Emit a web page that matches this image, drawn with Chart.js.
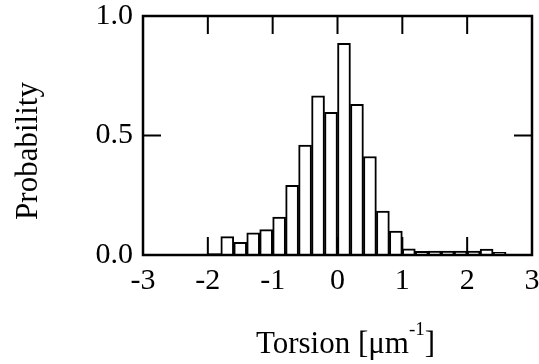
<!DOCTYPE html>
<html>
<head>
<meta charset="utf-8">
<script src="https://cdn.jsdelivr.net/npm/chart.js@4"></script>
<style>
  body { margin: 0; background: #fff; }
  #wrap { width: 539px; height: 364px; }
</style>
</head>
<body>
<div id="wrap"><canvas id="torsionChart"></canvas></div>
<script>
// Histogram bins (left edges, width 0.2) and probabilities
const binStarts = [-2.2, -2.0, -1.8, -1.6, -1.4, -1.2, -1.0, -0.8, -0.6, -0.4, -0.2, 0.0,
  0.2, 0.4, 0.6, 0.8, 1.0, 1.2, 1.4, 1.6, 1.8, 2.0, 2.2, 2.4];
const probability = [0.003, 0.006, 0.077, 0.053, 0.093, 0.106, 0.159, 0.292, 0.460, 0.666, 0.597, 0.886,
  0.630, 0.412, 0.184, 0.100, 0.026, 0.015, 0.016, 0.016, 0.016, 0.016, 0.025, 0.011];
const binWidth = 0.2;
const xTickValues = [-3, -2, -1, 0, 1, 2, 3];
const yTickValues = [0, 0.5, 1];

const FONT = "'Liberation Serif', 'Times New Roman', serif";

// frame, inward ticks and axis titles
const framePlugin = {
  id: 'frame',
  afterDraw(chart) {
    const ctx = chart.ctx;
    const a = chart.chartArea;
    const xs = chart.scales.x;
    const ys = chart.scales.y;
    ctx.save();
    ctx.strokeStyle = '#000';
    ctx.lineWidth = 2.5;
    ctx.strokeRect(a.left, a.top, a.right - a.left, a.bottom - a.top);

    ctx.lineWidth = 2;
    const tickLen = 18;
    ctx.beginPath();
    xTickValues.slice(1, -1).forEach((v) => {
      const px = xs.getPixelForValue(v);
      ctx.moveTo(px, a.bottom);
      ctx.lineTo(px, a.bottom - tickLen);
      ctx.moveTo(px, a.top);
      ctx.lineTo(px, a.top + tickLen);
    });
    yTickValues.slice(1, -1).forEach((v) => {
      const py = ys.getPixelForValue(v);
      ctx.moveTo(a.left, py);
      ctx.lineTo(a.left + tickLen, py);
      ctx.moveTo(a.right, py);
      ctx.lineTo(a.right - tickLen, py);
    });
    ctx.stroke();

    // y title
    ctx.fillStyle = '#000';
    ctx.font = '31px ' + FONT;
    ctx.textAlign = 'center';
    ctx.textBaseline = 'alphabetic';
    ctx.save();
    ctx.translate(37, 151);
    ctx.rotate(-Math.PI / 2);
    ctx.fillText('Probability', 0, 0);
    ctx.restore();

    // x title with superscript
    const main = 'Torsion [\u03bcm';
    const sup = '-1';
    const close = ']';
    ctx.font = '31px ' + FONT;
    const wMain = ctx.measureText(main).width;
    const wClose = ctx.measureText(close).width;
    ctx.font = '19px ' + FONT;
    const wSup = ctx.measureText(sup).width;
    const total = wMain + wSup + wClose;
    const cx = (a.left + a.right) / 2 + 8;
    let x = cx - total / 2;
    const base = 353;
    ctx.textAlign = 'left';
    ctx.font = '31px ' + FONT;
    ctx.fillText(main, x, base);
    x += wMain;
    ctx.font = '19px ' + FONT;
    ctx.fillText(sup, x, base - 18);
    x += wSup;
    ctx.font = '31px ' + FONT;
    ctx.fillText(close, x, base);
    ctx.restore();
  },
};

const data = {
  datasets: [
    {
      label: 'Probability',
      data: binStarts.map((s, i) => ({ x: s + binWidth / 2, y: probability[i] })),
      backgroundColor: '#ffffff',
      borderColor: '#000000',
      borderWidth: 2,
      barPercentage: 1,
      categoryPercentage: 1,
    },
  ],
};

const config = {
  type: 'bar',
  data: data,
  options: {
    responsive: true,
    maintainAspectRatio: false,
    animation: false,
    layout: {
      padding: { top: 16, right: 7, left: 0, bottom: 0 },
    },
    plugins: {
      legend: { display: false },
      tooltip: { enabled: false },
    },
    scales: {
      x: {
        type: 'linear',
        min: -3,
        max: 3,
        offset: false,
        grid: { display: false, drawTicks: false, offset: false },
        border: { display: false },
        afterBuildTicks: (scale) => {
          scale.ticks = xTickValues.map((v) => ({ value: v }));
        },
        afterFit: (scale) => {
          scale.height = 109;
          scale.paddingLeft = 0;
          scale.paddingRight = 0;
        },
        ticks: {
          color: '#000',
          font: { family: FONT, size: 30 },
          padding: 8,
          maxRotation: 0,
          callback: (value) => `${value}`,
        },
      },
      y: {
        min: 0,
        max: 1,
        grid: { display: false, drawTicks: false },
        border: { display: false },
        afterBuildTicks: (scale) => {
          scale.ticks = yTickValues.map((v) => ({ value: v }));
        },
        afterFit: (scale) => {
          scale.width = 143;
          scale.paddingTop = 0;
          scale.paddingBottom = 0;
        },
        ticks: {
          color: '#000',
          font: { family: FONT, size: 30 },
          padding: 10,
          callback: (value) => value.toFixed(1),
        },
      },
    },
  },
  plugins: [framePlugin],
};

new Chart(document.getElementById('torsionChart'), config);
</script>
</body>
</html>
